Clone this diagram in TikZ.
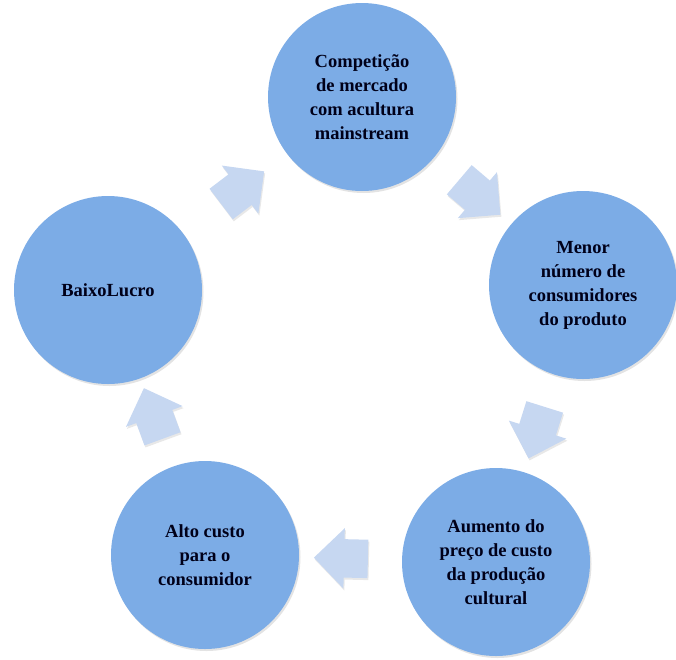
\documentclass[tikz,border=0pt]{standalone}
\usepackage{fontspec}
\setmainfont{Liberation Serif}
\usetikzlibrary{shapes.arrows,shadows}
\definecolor{ciclo}{RGB}{124,172,230}
\definecolor{seta}{RGB}{198,215,241}
\tikzset{
  etapa/.style={circle, fill=ciclo, minimum size=188pt, inner sep=0pt, align=center,
    font=\bfseries\fontsize{18.5}{24}\selectfont, text=black!90!blue,
    drop shadow={opacity=0.22, shadow xshift=1.5pt, shadow yshift=-2pt}},
  seta/.style={single arrow, fill=seta, minimum height=54pt, inner xsep=0pt, inner ysep=19pt,
    single arrow head extend=11pt, single arrow tip angle=90, allow upside down,
    drop shadow={opacity=0.18, shadow xshift=1pt, shadow yshift=-2pt}}
}

\begin{document}
\begin{tikzpicture}[x=1pt,y=-1pt]
  %%%%% START %%%%%
  \useasboundingbox (0,0) rectangle (676,659);

  \node[etapa] (c1) at (362,97) {Competição\\de mercado\\com acultura\\mainstream};
  \node[etapa] (c2) at (583,285) {Menor\\número de\\consumidores\\do produto};
  \node[etapa] (c3) at (496,562) {Aumento do\\preço de custo\\da produção\\cultural};
  \node[etapa] (c4) at (205,555) {Alto custo\\para o\\consumidor};
  \node[etapa] (c5) at (108,290) {BaixoLucro};

  \path (c5) -- (c1) node[seta, sloped, midway] (s1) {};
  \path (c1) -- (c2) node[seta, sloped, midway] (s2) {};
  \path (c2) -- (c3) node[seta, sloped, midway] (s3) {};
  \path (c3) -- (c4) node[seta, sloped, midway] (s4) {};
  \path (c4) -- (c5) node[seta, sloped, midway] (s5) {};
  %%%%% END %%%%%
\end{tikzpicture}
\end{document}
